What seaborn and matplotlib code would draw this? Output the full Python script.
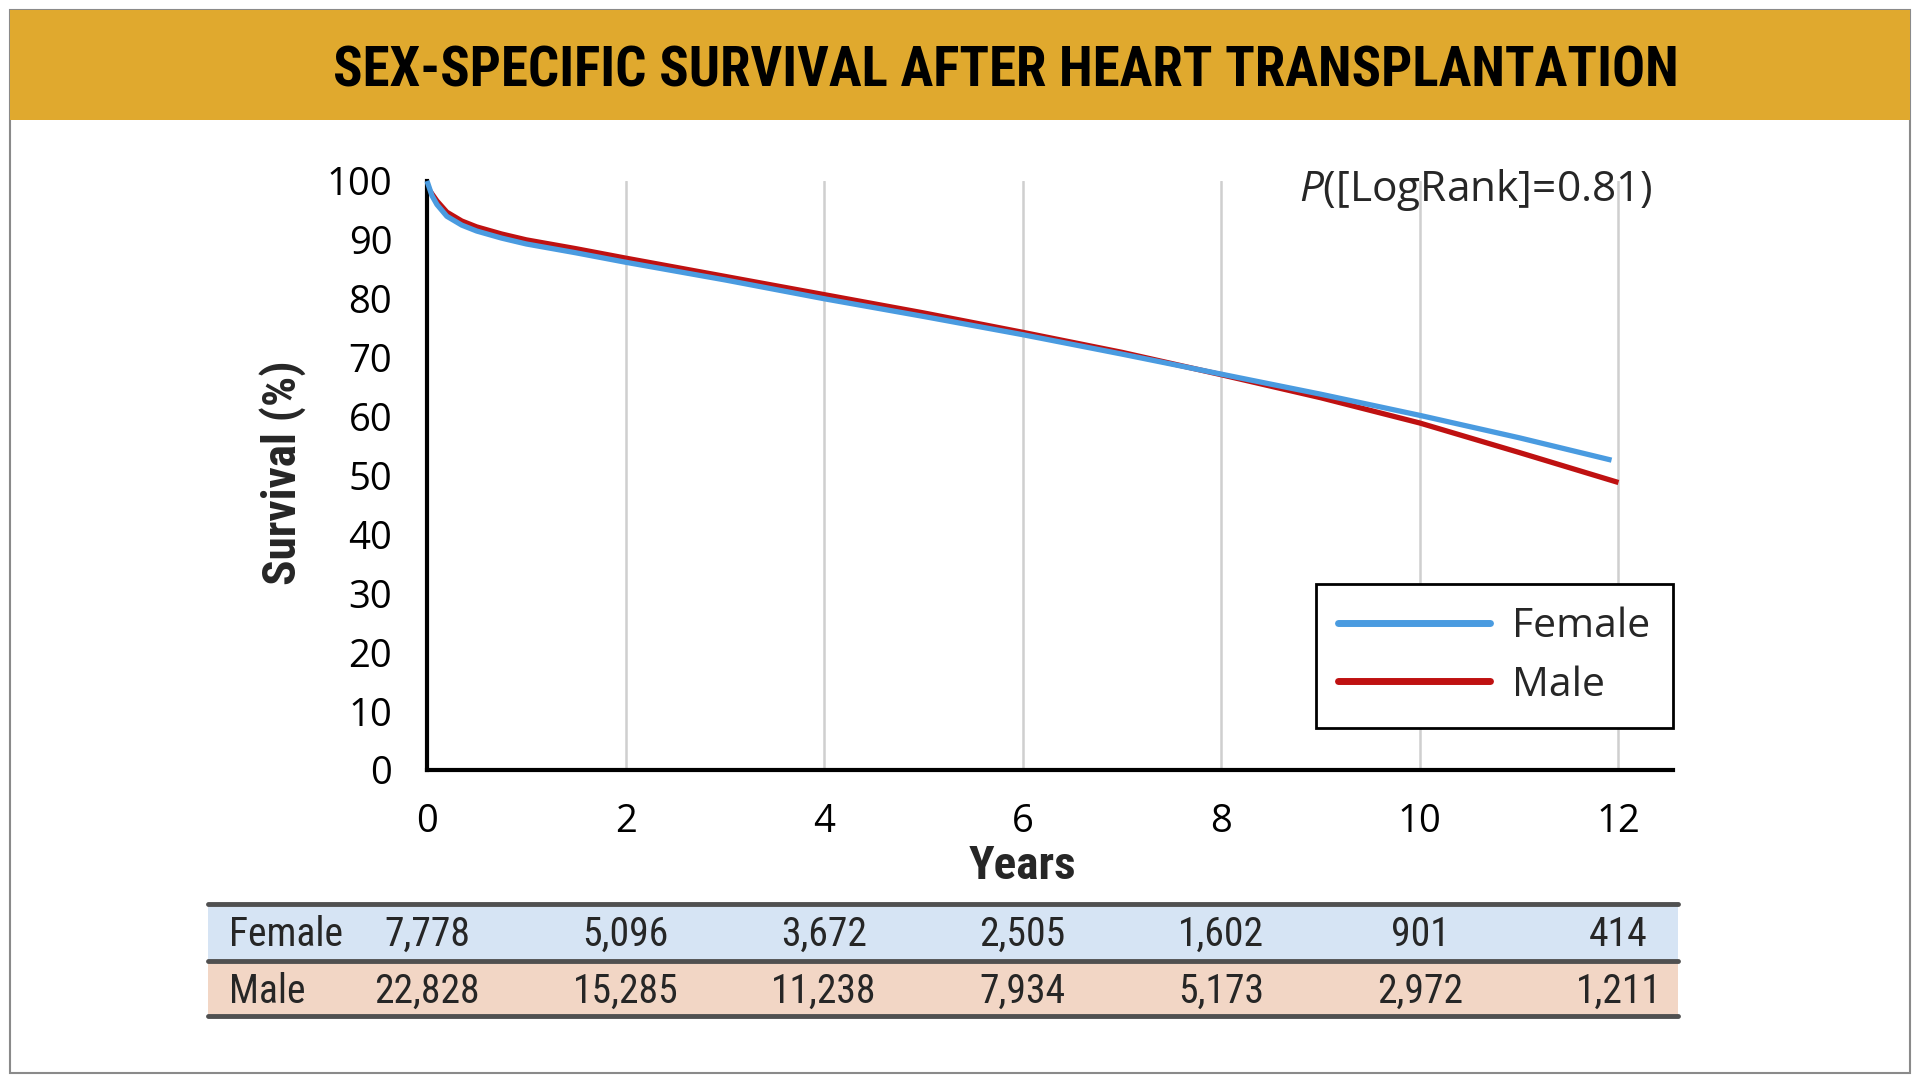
import matplotlib
matplotlib.use("Agg")
import pandas as pd
import seaborn as sns
import matplotlib.pyplot as plt
from matplotlib import font_manager, transforms
from matplotlib.patches import Rectangle
from matplotlib.lines import Line2D

# Survival curves (percent)
female_years = [0, 0.05, 0.1, 0.2, 0.35, 0.5, 0.75, 1, 1.5, 2, 3, 4, 5, 6, 7, 8, 9, 10, 11, 11.93]
female_surv = [100, 97.5, 96.0, 94.0, 92.5, 91.5, 90.3, 89.3, 87.8, 86.2, 83.2, 80.0, 77.0, 73.9, 70.6, 67.2, 63.8, 60.2, 56.4, 52.6]
male_years = [0, 0.05, 0.1, 0.2, 0.35, 0.5, 0.75, 1, 1.5, 2, 3, 4, 5, 6, 7, 8, 9, 10, 11, 12]
male_surv = [99.0, 97.8, 96.6, 94.7, 93.2, 92.2, 91.0, 90.0, 88.5, 86.9, 83.8, 80.7, 77.6, 74.3, 70.9, 67.1, 63.2, 58.9, 53.9, 48.8]

# numbers at risk
risk_years = [0, 2, 4, 6, 8, 10, 12]
female_risk = [7778, 5096, 3672, 2505, 1602, 901, 414]
male_risk = [22828, 15285, 11238, 7934, 5173, 2972, 1211]

title = "SEX-SPECIFIC SURVIVAL AFTER HEART TRANSPLANTATION"
p_text = r"$\mathit{P}$([LogRank]=0.81)"

BLUE = "#4A9BE0"
RED = "#BF1111"
GOLD = "#E0A92E"

sns.set_theme(style="white")
plt.rcParams["font.family"] = ["Open Sans", "DejaVu Sans"]
plt.rcParams["mathtext.fontset"] = "custom"
plt.rcParams["mathtext.it"] = "Open Sans:italic"
plt.rcParams["mathtext.rm"] = "Open Sans"

# pick a condensed face for the headings if one is installed
names = {f.name for f in font_manager.fontManager.ttflist}
cond = next((n for n in ["Liberation Sans Narrow", "DejaVu Sans Condensed", "Roboto Condensed",
                         "Open Sans Condensed", "Liberation Sans"] if n in names), "DejaVu Sans")

df = pd.concat([
    pd.DataFrame({"year": female_years, "surv": female_surv, "sex": "Female"}),
    pd.DataFrame({"year": male_years, "surv": male_surv, "sex": "Male"}),
], ignore_index=True)

fig = plt.figure(figsize=(19.2, 10.79), dpi=100)
fig.patch.set_facecolor("white")

# outer frame and title band
fig.patches.append(Rectangle((0.0052, 0.0056), 0.9896, 0.9851, transform=fig.transFigure,
                             facecolor="none", edgecolor="#8a8a8a", lw=1.5, zorder=-2))
fig.patches.append(Rectangle((0.0052, 0.8888), 0.9896, 0.1019, transform=fig.transFigure,
                             facecolor=GOLD, edgecolor="none", zorder=-1))
fig.text(0.524, 0.9336, title, ha="center", va="center", fontsize=39.5,
         fontweight="bold", family=cond, color="black")

ax = fig.add_axes([0.2224, 0.2864, 0.649, 0.5459])
sns.lineplot(data=df, x="year", y="surv", hue="sex", hue_order=["Female", "Male"],
             palette={"Female": BLUE, "Male": RED}, estimator=None, sort=False,
             linewidth=3.8, legend=False, ax=ax)
for line in ax.lines:
    line.set_clip_on(False)
    line.set_solid_capstyle("butt")
ax.lines[0].set_zorder(3)
ax.lines[1].set_zorder(2.5)

ax.set_xlim(0, 12.55)
ax.set_ylim(0, 100)
ax.set_xticks(risk_years)
ax.set_yticks(range(0, 101, 10))
ax.tick_params(axis="y", length=16, width=2.2, direction="out", pad=9, labelsize=27.5, colors="black")
ax.tick_params(axis="x", length=0, pad=24, labelsize=27.5, colors="black")
ax.xaxis.grid(True, color="#cfcfcf", lw=1.8)
ax.yaxis.grid(False)
for s in ["top", "right"]:
    ax.spines[s].set_visible(False)
for s in ["left", "bottom"]:
    ax.spines[s].set_color("black")
    ax.spines[s].set_linewidth(3)
ax.set_xlabel("")
ax.set_ylabel("")

fig.text(0.1469, 0.5616, "Survival (%)", rotation=90, ha="center", va="center",
         fontsize=34, fontweight="bold", family=cond)
mixed = transforms.blended_transform_factory(ax.transData, fig.transFigure)
fig.text(6, 0.1974, "Years", transform=mixed, ha="center", va="center",
         fontsize=34, fontweight="bold", family=cond)
fig.text(0.861, 0.8239, p_text, ha="right", va="center", fontsize=30.5)

handles = [Line2D([], [], color=BLUE, lw=5), Line2D([], [], color=RED, lw=5)]
leg = ax.legend(handles, ["Female", "Male"], loc="upper right", bbox_to_anchor=(1.0, 0.316),
                frameon=True, fancybox=False, edgecolor="black", framealpha=1, fontsize=29.5,
                handlelength=3.7, borderpad=0.55, labelspacing=0.45, handletextpad=0.55,
                borderaxespad=0)
leg.get_frame().set_linewidth(2)

# numbers-at-risk table
fig.patches.append(Rectangle((0.1083, 0.1094), 0.7656, 0.0528, transform=fig.transFigure,
                             facecolor="#D6E4F4", edgecolor="none", zorder=-1))
fig.patches.append(Rectangle((0.1083, 0.0584), 0.7656, 0.051, transform=fig.transFigure,
                             facecolor="#F2D6C5", edgecolor="none", zorder=-1))
for yy in [0.1622, 0.1094, 0.0584]:
    fig.add_artist(Line2D([0.1083, 0.8739], [yy, yy], transform=fig.transFigure,
                          color="#505050", lw=3.5, zorder=-0.5))

for label, counts, yy in [("Female", female_risk, 0.1339), ("Male", male_risk, 0.0811)]:
    fig.text(0.1193, yy, label, ha="left", va="center", fontsize=28.5, family=cond)
    for yr, n in zip(risk_years, counts):
        fig.text(yr, yy, f"{n:,}", transform=mixed, ha="center", va="center",
                 fontsize=28.5, family=cond)

fig.savefig("out.png", dpi=100, facecolor="white")
